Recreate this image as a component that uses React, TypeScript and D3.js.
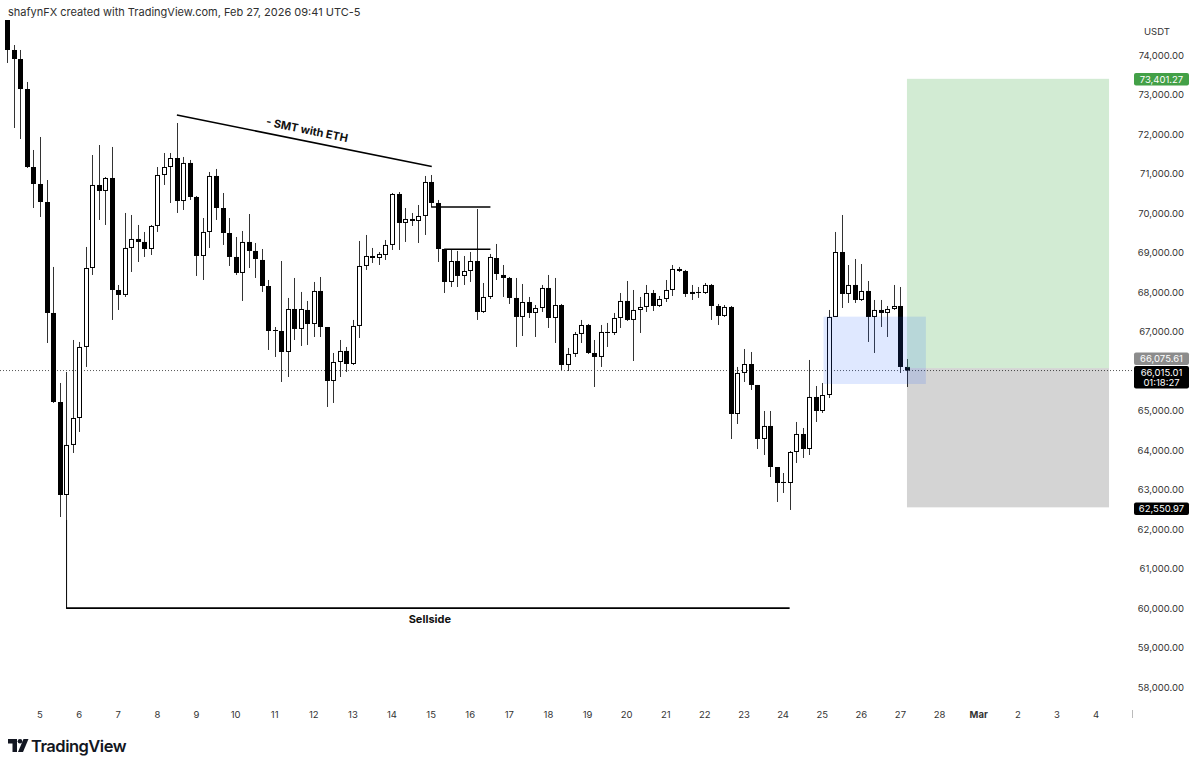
import React from 'react';
import * as d3 from 'd3';

// ---- DATA (4h BTC/USDT candles, first candle index -5 = Feb 4 07:00) ----
const startIndex = -5;
const opens = [
  74891,74132,73904,73144,71169,70739,70283,67473,65219,62864,
  64131,64814,66612,68612,70714,70562,70891,68055,67929,69119,
  69347,69271,69093,69676,70967,71169,71397,70308,71271,70410,
  68916,69524,70942,70131,69498,68891,68486,69271,69043,68815,
  68156,67042,67017,66485,67574,67068,67549,67194,68030,67118,
  65751,66232,66511,66181,67144,68663,68916,68865,68941,69195,
  70486,69752,69853,69802,69929,70790,70258,69093,68258,68789,
  68410,68536,68789,67498,67878,68865,68435,68359,67853,67372,
  67751,67473,67599,68106,67346,67675,66156,66435,66941,67169,
  66460,66359,66992,66966,67346,67777,67296,67549,67625,67979,
  67650,67827,68055,68587,68536,67954,68005,67979,68182,67650,
  67397,67625,64915,65954,66181,65650,64282,64612,63573,63194,
  63168,63953,64409,64029,65346,64991,65396,67372,69017,67954,
  68182,67802,68030,67372,67549,67473,67574,67650,66106,
];
const highs = [
  74942,74258,74132,73322,71600,71929,70840,68638,65700,65979,
  66789,66739,69144,71473,71726,70916,71676,68182,70005,69954,
  69701,69524,69701,71169,71524,71524,72283,71423,71347,70435,
  69878,71043,71119,70511,69878,69397,69549,69979,69245,69093,
  68308,67118,68789,67853,68359,68005,67777,68258,68384,67118,
  66460,66789,66612,67296,69296,69448,69119,69017,69321,70511,
  70536,70131,70005,70207,70942,70967,70334,69093,69068,69043,
  68916,69017,70106,68232,68967,69220,68688,68384,68359,68207,
  67878,67675,68182,68435,68359,67701,66587,66992,67296,67194,
  66789,67169,67220,67473,67979,68283,68055,67878,68182,68055,
  67903,68308,68688,68638,68562,68182,68131,68232,68207,67701,
  67675,67650,66106,66561,66485,65650,64991,64991,63573,63421,
  63978,64713,64561,66283,65624,65700,67549,69524,69954,68688,
  68840,68713,68283,67802,67802,67650,68182,68131,66308,
];
const lows = [
  73803,72157,71878,71144,70131,69904,66713,65194,62307,62231,
  63928,64460,66106,68435,69828,69701,67296,67549,67878,68511,
  68764,68891,68941,69524,70714,70258,70005,70081,70334,68410,
  68308,69119,69828,69195,68663,68435,67777,68612,68359,68005,
  66536,66359,65726,65852,66789,66637,66663,66865,66865,65093,
  65194,65852,65979,66156,66840,68562,68739,68688,68815,69068,
  69068,69271,69676,69245,69448,70157,68764,67979,68131,68131,
  68182,68258,67296,67473,67827,68308,67878,67701,66612,66890,
  67346,66865,67498,67093,66713,66029,66004,66359,66713,66435,
  65599,66106,66612,66916,67093,67270,66257,66966,67498,67523,
  67625,67751,67903,68511,67878,67802,67853,67954,67296,67169,
  67372,64282,64662,65726,65523,64029,63877,63320,62687,62915,
  62485,63675,63801,63877,64713,64941,65320,67372,67599,67726,
  67726,67777,66739,66460,67118,66865,67549,65954,65599,
];
const closes = [
  74132,73904,73144,71169,70739,70283,67473,65219,62864,64131,
  64814,66612,68612,70714,70562,70891,68055,67929,69119,69347,
  69271,69093,69676,70967,71169,71397,70308,71271,70410,68916,
  69524,70942,70131,69498,68891,68486,69271,69043,68840,68156,
  67017,67017,66485,67574,67068,67574,67194,68030,67118,65751,
  66232,66511,66181,67144,68663,68916,68865,68967,69195,70486,
  69752,69853,69802,69929,70790,70258,69093,68258,68789,68410,
  68536,68789,67498,67878,68891,68460,68359,67853,67372,67751,
  67473,67599,68106,67346,67675,66156,66435,66941,67169,66460,
  66359,66992,66966,67346,67777,67296,67549,67625,67979,67650,
  67827,68055,68587,68536,67954,68005,67979,68182,67650,67397,
  67625,64915,65954,66181,65650,64282,64612,63573,63168,63168,
  63953,64409,64029,65346,64991,65396,67372,69017,67954,68182,
  67802,68030,67372,67549,67473,67574,67650,66106,66015.01,
];

const dayLabels = ['5','6','7','8','9','10','11','12','13','14','15','16','17','18','19','20','21','22','23','24','25','26','27','28','Mar','2','3','4'];
const priceTicks = [58000,59000,60000,61000,62000,63000,64000,65000,67000,68000,69000,70000,71000,72000,73000,74000];

const lastPrice = 66015.01;
const countdown = '01:18:27';
const targetPrice = 73401.27;
const entryPrice = 66075.61;
const stopPrice = 62550.97;
const positionRange = [133, 164];
const zoneRange = [120.2, 135.9];
const zonePrices = [67379, 65675];
const smtPoints = [[21, 72486], [60.1, 71180]];
const smtLabel = '- SMT with ETH';
const levelLines = [
  { from: 60, to: 69.1, price: 70157 },
  { from: 62, to: 69.1, price: 69086 },
];
const sellsideLevel = 60000;
const sellsideRange = [4, 115];
const sellsideLabel = 'Sellside';
const headerText = 'shafynFX created with TradingView.com, Feb 27, 2026 09:41 UTC-5';

const W = 1200;
const H = 769;
const PLOT_RIGHT = 1133;
const FONT = 'Inter, Roboto, "Noto Sans", sans-serif';

const fmt = d3.format(',.2f');

export default function App() {
  const x = d3.scaleLinear().domain([0, 162]).range([40, 1096]);
  const y = d3.scaleLinear().domain([58000, 74000]).range([687.1, 55.2]);

  const candles = opens.map((o, i) => {
    const k = startIndex + i;
    const h = highs[i], l = lows[i], c = closes[i];
    const n = Math.round(x(k));
    const up = c >= o;
    const top = y(Math.max(o, c));
    const bot = y(Math.min(o, c));
    const bh = Math.max(1, bot - top);
    return (
      <g key={i}>
        <line x1={n + 0.5} x2={n + 0.5} y1={y(h)} y2={y(l)} stroke="#333" strokeWidth={1} />
        {up ? (
          <rect x={n - 1.5} y={top + 0.5} width={4} height={Math.max(0.5, bh - 1)} fill="#fff" stroke="#000" strokeWidth={1} />
        ) : (
          <rect x={n - 2} y={top} width={5} height={bh} fill="#000" />
        )}
      </g>
    );
  });

  const smtAngle = (Math.atan2(y(smtPoints[1][1]) - y(smtPoints[0][1]), x(smtPoints[1][0]) - x(smtPoints[0][0])) * 180) / Math.PI;
  const smtMidX = (x(smtPoints[0][0]) + x(smtPoints[1][0])) / 2 + 2;
  const smtMidY = (y(smtPoints[0][1]) + y(smtPoints[1][1])) / 2 - 7;

  const labelX = 1134;
  const labelW = 55;

  return (
    <svg width={W} height={H} style={{ position: 'absolute', left: 0, top: 0, background: '#fff' }} fontFamily={FONT}>
      <rect x={0} y={0} width={W} height={H} fill="#fff" />
      <text x={8} y={15.5} fontSize={11} fill="#2f2f2f">{headerText}</text>

      <defs>
        <clipPath id="plot"><rect x={0} y={20} width={PLOT_RIGHT} height={680} /></clipPath>
      </defs>

      <g clipPath="url(#plot)">
        {/* last price dotted line */}
        <line x1={0} x2={PLOT_RIGHT} y1={y(lastPrice)} y2={y(lastPrice)} stroke="#555" strokeWidth={1} strokeDasharray="1 2" />

        {candles}

        {/* position tool */}
        <rect x={x(positionRange[0])} y={y(targetPrice)} width={x(positionRange[1]) - x(positionRange[0])} height={y(entryPrice) - y(targetPrice)} fill="rgb(76,175,80)" fillOpacity={0.25} />
        <rect x={x(positionRange[0])} y={y(entryPrice)} width={x(positionRange[1]) - x(positionRange[0])} height={y(stopPrice) - y(entryPrice)} fill="#000" fillOpacity={0.17} />

        {/* zone box */}
        <rect x={x(zoneRange[0])} y={y(zonePrices[0])} width={x(zoneRange[1]) - x(zoneRange[0])} height={y(zonePrices[1]) - y(zonePrices[0])} fill="#2962ff" fillOpacity={0.15} />

        {/* SMT line */}
        <line x1={x(smtPoints[0][0])} y1={y(smtPoints[0][1])} x2={x(smtPoints[1][0])} y2={y(smtPoints[1][1])} stroke="#000" strokeWidth={1.6} />
        <text x={smtMidX} y={smtMidY} fontSize={11} fontWeight={700} fill="#111" textAnchor="middle" transform={`rotate(${smtAngle} ${smtMidX} ${smtMidY})`}>{smtLabel}</text>

        {/* level lines */}
        {levelLines.map((l, i) => (
          <line key={i} x1={x(l.from)} x2={x(l.to)} y1={y(l.price)} y2={y(l.price)} stroke="#000" strokeWidth={1.6} />
        ))}

        {/* sellside */}
        <line x1={x(sellsideRange[0]) + 0.5} x2={x(sellsideRange[0]) + 0.5} y1={y(lows[sellsideRange[0] - startIndex])} y2={y(sellsideLevel)} stroke="#000" strokeWidth={1} />
        <line x1={x(sellsideRange[0])} x2={x(sellsideRange[1])} y1={y(sellsideLevel)} y2={y(sellsideLevel)} stroke="#000" strokeWidth={1.6} />
        <text x={(x(sellsideRange[0]) + x(sellsideRange[1])) / 2 + 2} y={y(sellsideLevel) + 14.5} fontSize={11} fontWeight={700} fill="#111" textAnchor="middle">{sellsideLabel}</text>
      </g>

      {/* price axis */}
      <text x={1144} y={35} fontSize={9.5} fill="#333">USDT</text>
      {priceTicks.map((p) => (
        <text key={p} x={1184} y={y(p) + 3.5} fontSize={9.5} fill="#333" textAnchor="end">{fmt(p)}</text>
      ))}

      {/* price labels */}
      <rect x={labelX} y={73} width={labelW} height={12.5} rx={2} fill="#43a047" />
      <text x={labelX + labelW / 2} y={82.5} fontSize={9.5} fill="#fff" textAnchor="middle">{fmt(targetPrice)}</text>

      <rect x={labelX} y={352.5} width={labelW} height={12.5} rx={2} fill="#8c8c8c" />
      <text x={labelX + labelW / 2} y={362} fontSize={9.5} fill="#fff" textAnchor="middle">{fmt(entryPrice)}</text>

      <rect x={labelX} y={366} width={labelW} height={22.5} rx={2} fill="#000" />
      <text x={labelX + labelW / 2} y={375.5} fontSize={9.5} fill="#fff" textAnchor="middle">{fmt(lastPrice)}</text>
      <text x={labelX + labelW / 2} y={385.5} fontSize={9.5} fill="#fff" textAnchor="middle">{countdown}</text>

      <rect x={labelX} y={502.5} width={labelW} height={12.5} rx={2} fill="#000" />
      <text x={labelX + labelW / 2} y={512} fontSize={9.5} fill="#fff" textAnchor="middle">{fmt(stopPrice)}</text>

      {/* time axis */}
      {dayLabels.map((d, i) => (
        <text key={i} x={x(i * 6)} y={718} fontSize={9.5} fill="#333" textAnchor="middle" fontWeight={d === 'Mar' ? 700 : 400}>{d}</text>
      ))}
      <line x1={1132.5} x2={1132.5} y1={710} y2={718} stroke="#bbb" strokeWidth={1} />

      {/* TradingView logo */}
      <g fill="#131722">
        <path d="M8 739 h9 v13 h-4.5 v-8.5 h-4.5 z" />
        <circle cx={20} cy={741.3} r={2.3} />
        <path d="M23.5 739 h5 l-5.5 13 h-5 z" />
      </g>
      <text x={31} y={752} fontSize={16.5} fontWeight={600} fill="#131722" letterSpacing={-0.5}>TradingView</text>
    </svg>
  );
}
